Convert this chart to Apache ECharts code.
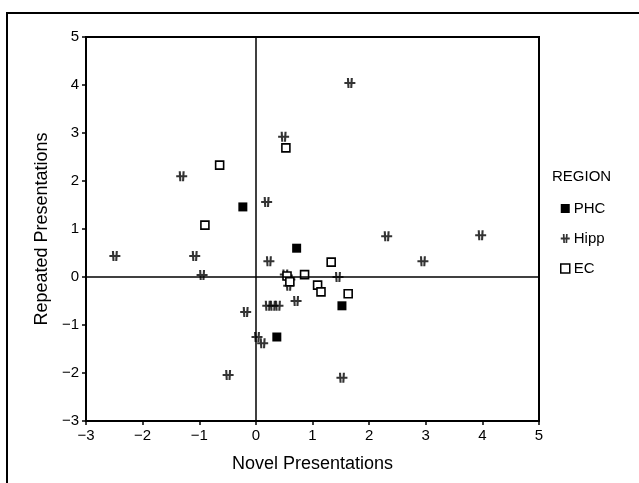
<!DOCTYPE html>
<html>
<head>
<meta charset="utf-8">
<script src="https://cdn.jsdelivr.net/npm/echarts@6/dist/echarts.min.js"></script>
<style>
  html, body { margin: 0; padding: 0; background: #fff; }
  #chart { width: 639px; height: 483px; }
</style>
</head>
<body>
<div id="chart"></div>
<script>
  // values
  const phcX = [-0.23, 0.72, 0.37, 1.52];
  const phcY = [1.46, 0.60, -1.25, -0.60];

  const hippX = [1.66, 0.49, -1.31, 0.19, 2.31, 3.97, -2.49, -1.08, 0.23, 2.95, -0.95, 1.45,
                 0.52, 0.60, 0.58, 0.71, 0.21, 0.30, 0.39, -0.18, 0.02, 0.12, -0.49, 1.52];
  const hippY = [4.04, 2.92, 2.10, 1.56, 0.85, 0.87, 0.44, 0.44, 0.33, 0.33, 0.04, 0.00,
                 0.05, -0.05, -0.18, -0.50, -0.60, -0.60, -0.60, -0.73, -1.25, -1.38, -2.04, -2.10];

  const ecX = [0.53, -0.64, -0.90, 1.33, 0.86, 0.55, 0.60, 1.09, 1.15, 1.63];
  const ecY = [2.69, 2.33, 1.08, 0.31, 0.05, 0.02, -0.10, -0.17, -0.31, -0.35];

  const regions = ['PHC', 'Hipp', 'EC'];
  const axisTicks = [-3, -2, -1, 0, 1, 2, 3, 4, 5];

  const pairs = (xs, ys) => xs.map((x, i) => [x, ys[i]]);
  const font = '"Liberation Sans", Arial, sans-serif';
  const minus = v => (v < 0 ? '\u2212' + (-v) : String(v));

  // little asterisk-ish mark used for Hipp
  const hippPath = 'path://M0,4H10V6H0Z M2.3,0H4.2L4.7,10H2.8Z M5.8,0H7.7L7.2,10H5.3Z';

  let myChart = echarts.init(document.getElementById('chart'));
  let option = {
    backgroundColor: '#fff',
    animation: false,
    textStyle: { fontFamily: font, color: '#000' },
    grid: {
      left: 86, top: 37, right: 100, bottom: 62,
      show: true, borderColor: '#000', borderWidth: 2
    },
    xAxis: {
      type: 'value',
      min: axisTicks[0], max: axisTicks[axisTicks.length - 1], interval: 1,
      name: 'Novel Presentations',
      nameLocation: 'middle', nameGap: 34,
      nameTextStyle: { fontSize: 18, color: '#000', fontFamily: font },
      axisLine: { onZero: false, lineStyle: { color: '#000', width: 2 } },
      axisTick: { show: true, length: 4, lineStyle: { color: '#000', width: 1.5 } },
      axisLabel: { fontSize: 15, color: '#000', margin: 7, formatter: minus },
      splitLine: { show: false }
    },
    yAxis: {
      type: 'value',
      min: axisTicks[0], max: axisTicks[axisTicks.length - 1], interval: 1,
      name: 'Repeated Presentations',
      nameLocation: 'middle', nameGap: 32,
      nameTextStyle: { fontSize: 18, color: '#000', fontFamily: font },
      axisLine: { onZero: false, lineStyle: { color: '#000', width: 2 } },
      axisTick: { show: true, length: 4, lineStyle: { color: '#000', width: 1.5 } },
      axisLabel: { fontSize: 15, color: '#000', margin: 7, formatter: minus },
      splitLine: { show: false }
    },
    legend: {
      orient: 'vertical',
      left: 555, top: 196,
      itemWidth: 9, itemHeight: 9, itemGap: 15,
      textStyle: { fontSize: 15, color: '#000', fontFamily: font, padding: [0, 0, 0, -1] },
      data: [
        { name: regions[0], icon: 'rect' },
        { name: regions[1], icon: hippPath },
        { name: regions[2], icon: 'rect', itemStyle: { color: '#fff', borderColor: '#000', borderWidth: 1.5 } }
      ]
    },
    graphic: [
      {
        type: 'polyline', silent: true,
        shape: { points: [[7, 483], [7, 13], [639, 13]] },
        style: { stroke: '#000', lineWidth: 2, fill: null }
      },
      {
        type: 'text', left: 552, top: 169,
        style: { text: 'REGION', fontSize: 15, fontFamily: font, fill: '#000' }
      }
    ],
    series: [
      {
        name: regions[1],
        type: 'scatter',
        symbol: hippPath,
        symbolSize: [11, 10],
        itemStyle: { color: '#000' },
        data: pairs(hippX, hippY),
        markLine: {
          silent: true,
          symbol: 'none',
          label: { show: false },
          lineStyle: { color: '#000', width: 1.5, type: 'solid' },
          data: [{ xAxis: 0 }, { yAxis: 0 }]
        }
      },
      {
        name: regions[2],
        type: 'scatter',
        symbol: 'rect',
        symbolSize: 8,
        itemStyle: { color: '#fff', borderColor: '#000', borderWidth: 1.6, opacity: 1 },
        data: pairs(ecX, ecY)
      },
      {
        name: regions[0],
        type: 'scatter',
        symbol: 'rect',
        symbolSize: 9,
        itemStyle: { color: '#000', opacity: 1 },
        data: pairs(phcX, phcY)
      }
    ]
  };
  myChart.setOption(option);
</script>
</body>
</html>
